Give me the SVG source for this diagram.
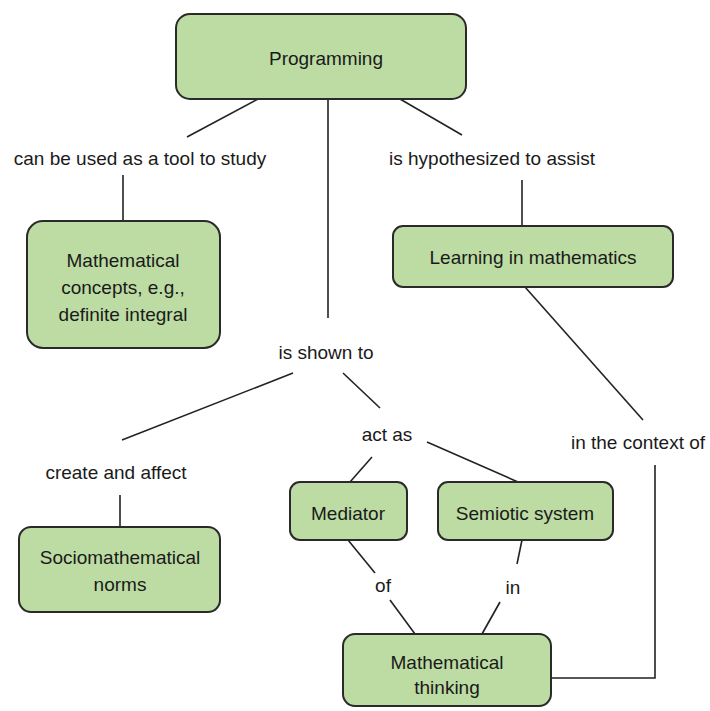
<svg xmlns="http://www.w3.org/2000/svg" width="710" height="711" viewBox="0 0 710 711">
<style>
.box{fill:#bcdca3;stroke:#2a2a2a;stroke-width:2}
.t{font-family:"Liberation Sans",Arial,sans-serif;font-size:19px;fill:#1a1a1a;text-anchor:middle;dominant-baseline:central}
.c{stroke:#222;stroke-width:1.6;fill:none}
</style>
<rect width="710" height="711" fill="#fff"/>
<g id="connectors">
<line class="c" x1="258" y1="99" x2="187" y2="137"/>
<line class="c" x1="328" y1="99" x2="328" y2="318"/>
<line class="c" x1="400" y1="99" x2="462" y2="135"/>
<line class="c" x1="123" y1="175" x2="123" y2="222"/>
<line class="c" x1="522" y1="180" x2="522" y2="226"/>
<line class="c" x1="525" y1="287" x2="643" y2="420"/>
<polyline class="c" points="551,678 655,678 655,465"/>
<line class="c" x1="293" y1="373" x2="122" y2="440"/>
<line class="c" x1="343" y1="373" x2="380" y2="408"/>
<line class="c" x1="120" y1="495" x2="120" y2="527"/>
<line class="c" x1="372" y1="457" x2="350" y2="482"/>
<line class="c" x1="427" y1="442" x2="518" y2="482"/>
<line class="c" x1="348" y1="540" x2="375" y2="573"/>
<line class="c" x1="390" y1="600" x2="415" y2="634"/>
<line class="c" x1="522" y1="540" x2="517" y2="564"/>
<line class="c" x1="500" y1="602" x2="482" y2="634"/>
<text class="t" x="140" y="158">can be used as a tool to study</text>
<text class="t" x="492" y="158">is hypothesized to assist</text>
<text class="t" x="326" y="352">is shown to</text>
<text class="t" x="387" y="434">act as</text>
<text class="t" x="116" y="472">create and affect</text>
<text class="t" x="638" y="442">in the context of</text>
<text class="t" x="383" y="585">of</text>
<text class="t" x="513" y="587">in</text>
</g>
<g id="programming">
<rect class="box" x="176" y="14" width="290" height="85" rx="14"/>
<text class="t" x="326" y="58">Programming</text>
</g>
<g id="concepts">
<rect class="box" x="27" y="221" width="193" height="127" rx="16"/>
<text class="t" x="123" y="260">Mathematical</text>
<text class="t" x="123" y="287">concepts, e.g.,</text>
<text class="t" x="123" y="314">definite integral</text>
</g>
<g id="learning">
<rect class="box" x="393" y="226" width="280" height="61" rx="10"/>
<text class="t" x="533" y="257">Learning in mathematics</text>
</g>
<g id="socio">
<rect class="box" x="19" y="527" width="201" height="85" rx="12"/>
<text class="t" x="120" y="557">Sociomathematical</text>
<text class="t" x="120" y="584">norms</text>
</g>
<g id="mediator">
<rect class="box" x="290" y="482" width="117" height="58" rx="10"/>
<text class="t" x="348" y="513">Mediator</text>
</g>
<g id="semiotic">
<rect class="box" x="438" y="482" width="175" height="58" rx="10"/>
<text class="t" x="525" y="513">Semiotic system</text>
</g>
<g id="thinking">
<rect class="box" x="343" y="634" width="208" height="72" rx="12"/>
<text class="t" x="447" y="662">Mathematical</text>
<text class="t" x="447" y="687">thinking</text>
</g>
</svg>
